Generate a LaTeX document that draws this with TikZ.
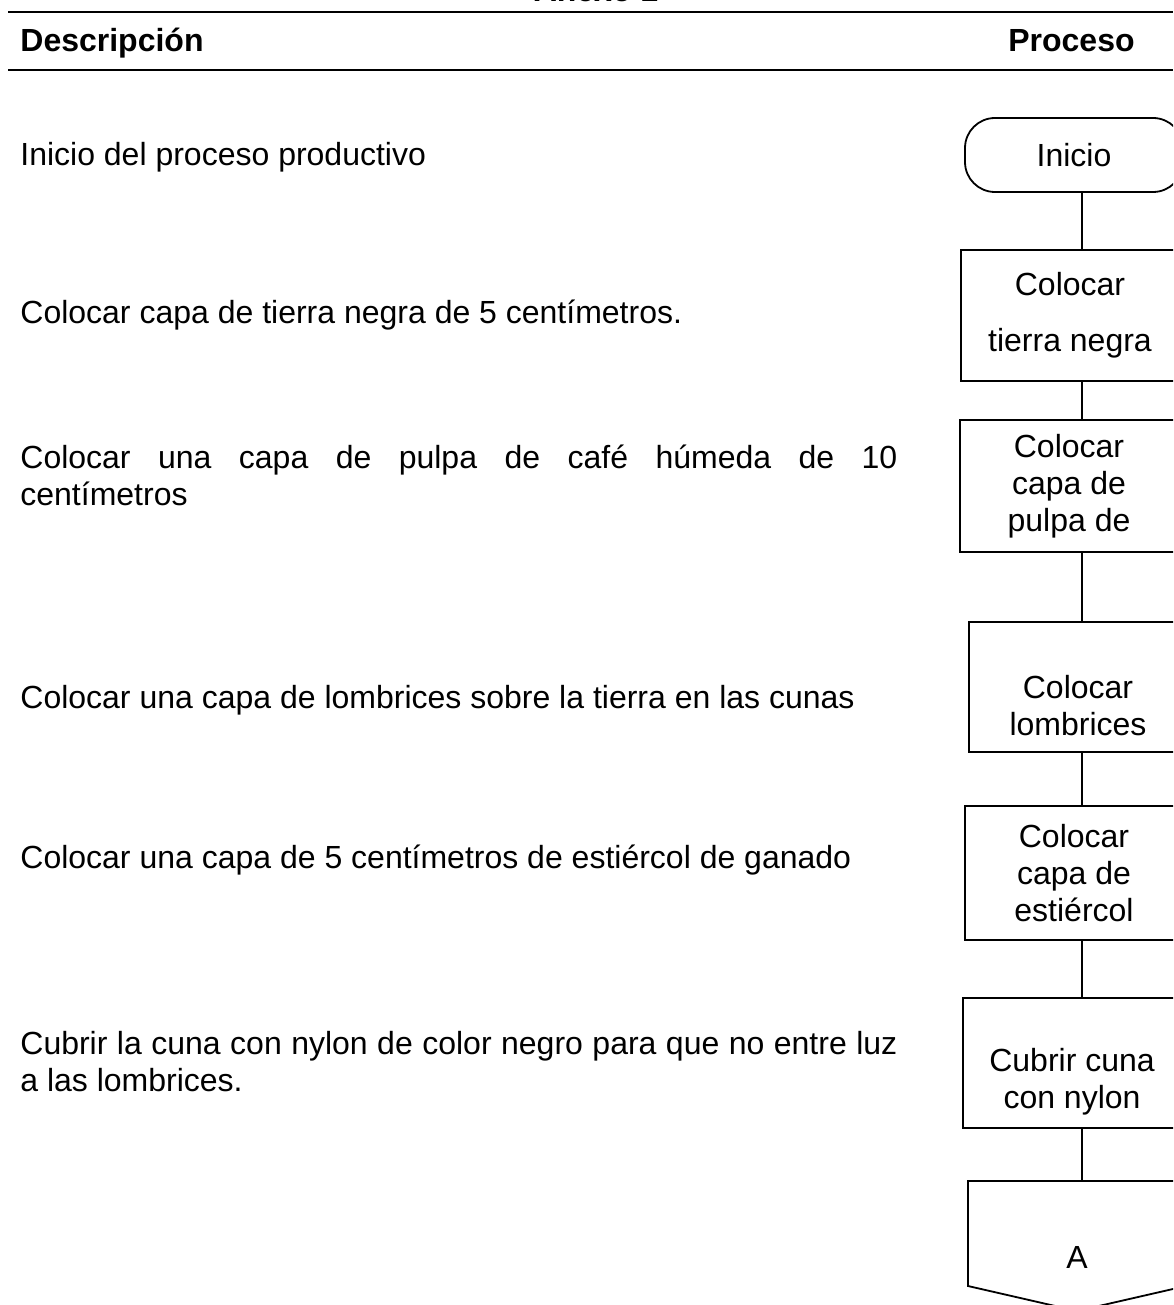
\documentclass[tikz,border=0pt]{standalone}
\usepackage{fontspec}
\setmainfont{Liberation Sans}

\begin{document}
\begin{tikzpicture}[x=0.5pt,y=-0.5pt]
        \useasboundingbox (0,0) rectangle (1173,1305);
        \clip (0,0) rectangle (1173,1305);

        \draw [line width=1pt] (8,12) -- (1173,12);
        \draw [line width=1pt] (8,70) -- (1173,70);

        \begin{scope}[every node/.style={font=\fontsize{16}{18.5}\selectfont\bfseries,inner sep=0pt}]
            \node (anexo) [anchor=base] at (596,2) {Anexo 1};
            \node (desc) [anchor=base west] at (20,52) {Descripción};
            \node (proc) [anchor=base east] at (1135,52) {Proceso};
        \end{scope}

        \begin{scope}[every node/.style={font=\fontsize{16}{18.5}\selectfont,inner sep=0pt,anchor=base west,align=left}]
            \node (d1) at (20,166) {Inicio del proceso productivo};
            \node (d2) at (20,323) {Colocar capa de tierra negra de 5 centímetros.};
            \node (d3) at (20,505) {\makebox[438.5pt][s]{Colocar una capa de pulpa de café húmeda de 10}\\centímetros};
            \node (d4) at (20,708) {Colocar una capa de lombrices sobre la tierra en las cunas};
            \node (d5) at (20,868) {Colocar una capa de 5 centímetros de estiércol de ganado};
            \node (d6) at (20,1091) {\makebox[438.5pt][s]{Cubrir la cuna con nylon de color negro para que no entre luz}\\a las lombrices.};
        \end{scope}

        \begin{scope}[every node/.style={draw,line width=0.9pt,font=\fontsize{16}{18.5}\selectfont,align=center,minimum width=109pt,inner sep=0pt}]
            \node (ini) [rounded corners=15pt,minimum height=37pt] at (1074,155) {Inicio};
            \node (tierra) [minimum height=65.5pt] at (1070,315.5) {Colocar\\[9.5pt]tierra negra};
            \node (pulpa) [minimum height=66pt] at (1069,486) {Colocar\\capa de\\pulpa de};
            \node (lombr) [minimum height=65pt] at (1078,687) {\rule{0pt}{11.5pt}\\Colocar\\lombrices};
            \node (estier) [minimum height=67pt] at (1074,873) {Colocar\\capa de\\estiércol};
            \node (nylon) [minimum height=65pt] at (1072,1063) {\rule{0pt}{11.5pt}\\Cubrir cuna\\con nylon};
        \end{scope}

        % conector fuera de pagina
        \node (conA) [font=\fontsize{16}{18.5}\selectfont,inner sep=0pt] at (1077,1257) {A};
        \draw [line width=0.9pt] ([shift={(-109,-76)}]conA.center) coordinate (conTop)
            -- ([shift={(109,-76)}]conA.center) -- ([shift={(109,29)}]conA.center)
            -- ([shift={(0,54)}]conA.center) -- ([shift={(-109,29)}]conA.center) -- cycle;

        \coordinate (axis) at (1082,0);
        \begin{scope}[every edge/.style={draw=black,line width=0.75pt}]
            \path (ini.south -| axis) edge (tierra.north -| axis);
            \path (tierra.south -| axis) edge (pulpa.north -| axis);
            \path (pulpa.south -| axis) edge (lombr.north -| axis);
            \path (lombr.south -| axis) edge (estier.north -| axis);
            \path (estier.south -| axis) edge (nylon.north -| axis);
            \path (nylon.south -| axis) edge (conTop -| axis);
        \end{scope}
    \end{tikzpicture}
\end{document}
